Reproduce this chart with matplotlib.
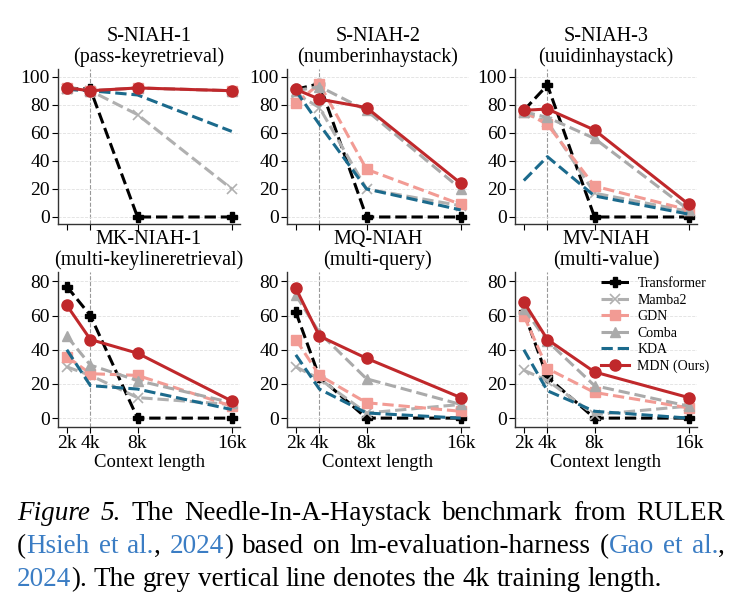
import numpy as np
import matplotlib
matplotlib.use("Agg")
import matplotlib.pyplot as plt

plt.rcParams['font.family'] = ['Liberation Serif', 'DejaVu Serif']

## data
ctx = [2, 4, 8, 16]
ctx_labels = ['2k', '4k', '8k', '16k']

titles = ['S-NIAH-1\n(pass-keyretrieval)', 'S-NIAH-2\n(numberinhaystack)', 'S-NIAH-3\n(uuidinhaystack)',
          'MK-NIAH-1\n(multi-keylineretrieval)', 'MQ-NIAH\n(multi-query)', 'MV-NIAH\n(multi-value)']

# one row per panel, values at 2k, 4k, 8k, 16k
transformer = [[92, 91, 0, 0], [91, 95, 0, 0], [76, 94, 0, 0],
               [77, 60, 0, 0], [62, 24, 0, 0], [62, 24, 0, 0]]
mamba2 = [[91, 90, 73, 20], [88, 78, 20, 8], [74, 68, 17, 4],
          [30, 25, 12, 8], [30, 23, 3, 8], [28, 22, 2, 7]]
gdn = [[92, 90, 92, 90], [81, 95, 34, 9], [75, 66, 22, 5],
       [36, 26, 25, 7], [46, 25, 9, 4], [60, 29, 15, 6]]
comba = [[92, 90, 92, 90], [90, 93, 76, 20], [75, 71, 56, 5],
         [48, 31, 22, 9], [72, 50, 23, 8], [64, 45, 19, 7]]
kda = [[91, 90, 87, 61], [90, 66, 20, 5], [26, 43, 15, 2],
       [40, 19, 17, 5], [37, 17, 3, 0], [40, 16, 4, 0]]
mdn = [[92, 90, 92, 90], [91, 84, 78, 24], [76, 77, 62, 9],
       [66, 46, 38, 10], [76, 48, 35, 12], [68, 46, 27, 12]]

series = [
    ('Transformer', transformer, dict(color='black', ls='--', marker='P', ms=7)),
    ('Mamba2', mamba2, dict(color='#b0b0b0', ls='--', marker='x', ms=7, mew=1.2)),
    ('GDN', gdn, dict(color='#f29b94', ls='--', marker='s', ms=7)),
    ('Comba', comba, dict(color='#aaaaaa', ls='--', marker='^', ms=7)),
    ('KDA', kda, dict(color='#1b6a8c', ls='--')),
    ('MDN (Ours)', mdn, dict(color='#c0282b', ls='-', marker='o', ms=8)),
]

W, H = 738, 601
fig = plt.figure(figsize=(W / 100, H / 100), dpi=100)

lefts = [58, 287, 515]
tops = [69, 272]
aw, ah = 182, 155

axes = []
for r in range(2):
    for c in range(3):
        ax = fig.add_axes([lefts[c] / W, 1 - (tops[r] + ah) / H, aw / W, ah / H])
        axes.append(ax)

for i, ax in enumerate(axes):
    for name, vals, st in series:
        ax.plot(ctx, vals[i], lw=2.2, label=name, **st)
    ax.axvline(4, color='#999999', ls='--', lw=0.8, zorder=0)
    ax.grid(axis='y', ls='--', lw=0.6, color='#e0e0e0', zorder=0)
    ax.set_xlim(1.25, 16.7)
    if i < 3:
        ax.set_ylim(-5, 105.5)
        ax.set_yticks([0, 20, 40, 60, 80, 100])
        ax.set_xticks(ctx)
        ax.set_xticklabels([])
    else:
        ax.set_ylim(-5.2, 85.5)
        ax.set_yticks([0, 20, 40, 60, 80])
        ax.set_xticks(ctx)
        ax.set_xticklabels(ctx_labels)
        ax.set_xlabel('Context length', fontsize=13.5, labelpad=1)
    ax.tick_params(labelsize=14, length=4, width=0.8, pad=2)
    for s in ['top', 'right']:
        ax.spines[s].set_visible(False)
    for s in ['left', 'bottom']:
        ax.spines[s].set_color('#333333')
        ax.spines[s].set_linewidth(1.0)
    ax.set_title(titles[i], fontsize=14.5, linespacing=1.1, pad=5)

axes[5].legend(loc='upper right', frameon=False, fontsize=10, handlelength=2.0,
               handletextpad=0.6, labelspacing=0.25, bbox_to_anchor=(1.115, 1.02),
               borderaxespad=0.2)

## caption
renderer = fig.canvas.get_renderer()
blk = 'black'
blue = '#3b7dc4'
fs = 19.5


def draw_line(tokens, y, justify, x0=17, x1=725):
    drawn = []
    widths = []
    for tok in tokens:
        parts = []
        w = 0
        for s, col, sty in tok:
            t = fig.text(0, 1 - y / H, s, color=col, style=sty, fontsize=fs, va='baseline')
            bw = t.get_window_extent(renderer).width
            parts.append((t, bw))
            w += bw
        drawn.append(parts)
        widths.append(w)
    space = fs * 100 / 72 * 0.25
    if justify:
        gap = (x1 - x0 - sum(widths)) / (len(tokens) - 1)
    else:
        gap = space
    x = x0
    for parts in drawn:
        for t, bw in parts:
            t.set_x(x / W)
            x += bw
        x += gap


def words(s, col=blk, sty='normal'):
    return [[(w, col, sty)] for w in s.split()]


line1 = [[('Figure', blk, 'italic')], [('5.', blk, 'italic')]] + \
    words('The Needle-In-A-Haystack benchmark from RULER')
line2 = [[('(', blk, 'normal'), ('Hsieh', blue, 'normal')], [('et', blue, 'normal')],
         [('al.', blue, 'normal'), (',', blk, 'normal')],
         [('2024', blue, 'normal'), (')', blk, 'normal')]] + \
    words('based on lm-evaluation-harness') + \
    [[('(', blk, 'normal'), ('Gao', blue, 'normal')], [('et', blue, 'normal')],
     [('al.', blue, 'normal'), (',', blk, 'normal')]]
line3 = [[('2024', blue, 'normal'), (').', blk, 'normal')]] + \
    words('The grey vertical line denotes the 4k training length.')

draw_line(line1, 520, True)
draw_line(line2, 553, True)
draw_line(line3, 586, False)

fig.savefig('out.png', dpi=100)
